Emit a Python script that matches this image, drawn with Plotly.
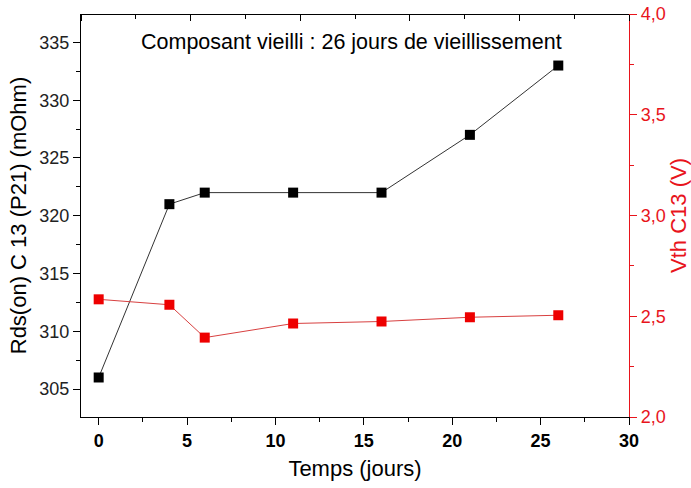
import plotly.graph_objects as go

temps = [0, 4, 6, 11, 16, 21, 26]
rds_on = [306, 321, 322, 322, 322, 327, 333]
vth = [2.584, 2.557, 2.394, 2.464, 2.474, 2.495, 2.505]

x_ticks = [0, 5, 10, 15, 20, 25, 30]
top_ticks = [0, 5, 10, 15, 20, 25]
left_ticks = [305, 310, 315, 320, 325, 330, 335]
right_ticks = [2.0, 2.5, 3.0, 3.5, 4.0]

FONT = "Liberation Sans, Arial, sans-serif"
RED = "#e8141c"

fig = go.Figure()
fig.add_trace(go.Scatter(
    x=temps, y=rds_on, mode="lines+markers",
    line=dict(color="#333333", width=1),
    marker=dict(symbol="square", size=10, color="black"),
    xaxis="x", yaxis="y", showlegend=False))
fig.add_trace(go.Scatter(
    x=temps, y=vth, mode="lines+markers",
    line=dict(color="#d84040", width=1),
    marker=dict(symbol="square", size=10, color="#ee0000"),
    xaxis="x", yaxis="y2", showlegend=False))
# invisible trace so the top frame axis is rendered with its ticks
fig.add_trace(go.Scatter(
    x=[0, 25], y=[320, 320], mode="markers", marker=dict(opacity=0),
    xaxis="x2", yaxis="y", showlegend=False, hoverinfo="skip"))

fig.update_layout(
    width=691, height=488,
    margin=dict(l=81, r=62, t=14, b=71),
    paper_bgcolor="white", plot_bgcolor="white",
    separators=", ",
    font=dict(family=FONT, color="black"),
    xaxis=dict(
        range=[-1, 30], tickvals=x_ticks, automargin=False,
        showgrid=False, zeroline=False,
        showline=True, linecolor="black", linewidth=1.2,
        ticks="outside", ticklen=7, tickwidth=1.2, tickcolor="black",
        minor=dict(dtick=2.5, tick0=0, ticks="outside", ticklen=4, tickcolor="black", tickwidth=1),
        tickfont=dict(size=18, family=FONT, weight="bold"),
        title=dict(text="Temps (jours)", font=dict(size=22, family=FONT), standoff=10),
    ),
    xaxis2=dict(
        overlaying="x", anchor="free", position=1, side="bottom",
        range=[0, 25], automargin=False,
        tickvals=top_ticks, showticklabels=False,
        showgrid=False, zeroline=False,
        showline=True, linecolor="black", linewidth=1.2,
        ticks="outside", ticklen=6, tickwidth=1.2, tickcolor="black",
        minor=dict(dtick=2.5, tick0=0, ticks="outside", ticklen=4, tickcolor="black", tickwidth=1),
    ),
    yaxis=dict(
        range=[302.58, 337.46], tickvals=left_ticks, automargin=False,
        showgrid=False, zeroline=False,
        showline=True, linecolor="black", linewidth=1.2,
        ticks="outside", ticklen=7, tickwidth=1.2, tickcolor="black",
        minor=dict(dtick=2.5, tick0=305, ticks="outside", ticklen=4, tickcolor="black", tickwidth=1),
        tickfont=dict(size=18, family=FONT, color="#222222"),
        title=dict(text="Rds(on) C 13 (P21) (mOhm)", font=dict(size=22, family=FONT), standoff=6),
    ),
    yaxis2=dict(
        overlaying="y", side="right", range=[2.0, 4.0], automargin=False,
        tickvals=right_ticks, tickformat=".1f",
        showgrid=False, zeroline=False,
        showline=True, linecolor=RED, linewidth=1.2,
        ticks="outside", ticklen=7, tickwidth=1.2, tickcolor=RED,
        minor=dict(dtick=0.25, tick0=2.0, ticks="outside", ticklen=4, tickcolor=RED, tickwidth=1),
        tickfont=dict(size=18, family=FONT, color=RED),
        title=dict(text="Vth C13 (V)", font=dict(size=22, family=FONT, color=RED), standoff=6),
    ),
    annotations=[dict(
        text="Composant vieilli : 26 jours de vieillissement",
        xref="paper", yref="paper", x=0.494, y=0.931,
        xanchor="center", yanchor="middle", showarrow=False,
        font=dict(size=21.5, family=FONT, color="black"))],
)

fig.write_html(
    "out.html",
    config={"displayModeBar": False},
    post_script="document.body.style.margin='0';document.body.style.overflow='hidden';",
)
